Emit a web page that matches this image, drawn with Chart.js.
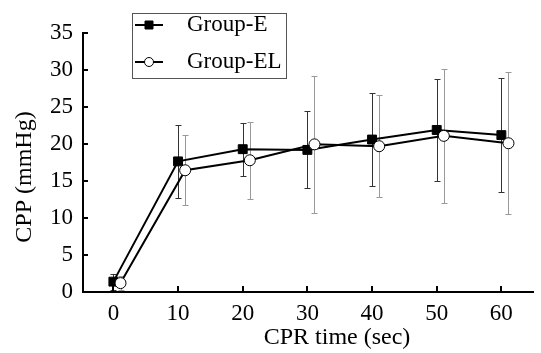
<!DOCTYPE html>
<html>
<head>
<meta charset="utf-8">
<script src="https://cdn.jsdelivr.net/npm/chart.js@4/dist/chart.umd.min.js"></script>
<style>
html,body{margin:0;padding:0;background:#fff;}
#wrap{width:541px;height:353px;}
</style>
</head>
<body>
<div id="wrap"><canvas id="c" width="541" height="353"></canvas></div>
<script>
const times = [0, 10, 20, 30, 40, 50, 60];
const groupE = [1.4, 17.65, 19.3, 19.2, 20.6, 21.9, 21.2];
const groupESD = [1.1, 4.9, 3.6, 5.2, 6.3, 6.9, 7.7];
const groupEL = [1.2, 16.45, 17.8, 19.95, 19.7, 21.1, 20.1];
const groupELSD = [0.9, 4.7, 5.2, 9.3, 6.9, 9.1, 9.6];
const xTicks = [0, 10, 20, 30, 40, 50, 60];
const yTicks = [0, 5, 10, 15, 20, 25, 30, 35];
const labels = ['Group-E', 'Group-EL'];
const xTitle = 'CPR time (sec)';
const yTitle = 'CPP (mmHg)';
const elShift = 1.1;

const FONT = "'Liberation Serif', 'Times New Roman', serif";

const errColors = ['#333', '#999'];

const errorBars = {
  id: 'errorBars',
  beforeDatasetsDraw(chart) {
    const ctx = chart.ctx, xs = chart.scales.x, ys = chart.scales.y;
    const sds = [groupESD, groupELSD];
    ctx.save();
    ctx.lineWidth = 1;
    chart.data.datasets.forEach((ds, i) => {
      ctx.strokeStyle = errColors[i];
      ds.data.forEach((p, j) => {
        const x = Math.round(xs.getPixelForValue(p.x)) + 0.5;
        const yt = Math.round(ys.getPixelForValue(p.y + sds[i][j])) + 0.5;
        const yb = Math.round(ys.getPixelForValue(Math.max(0, p.y - sds[i][j]))) + 0.5;
        ctx.beginPath();
        ctx.moveTo(x, yt); ctx.lineTo(x, yb);
        ctx.moveTo(x - 3, yt); ctx.lineTo(x + 3, yt);
        ctx.moveTo(x - 3, yb); ctx.lineTo(x + 3, yb);
        ctx.stroke();
      });
    });
    ctx.restore();
  }
};

const innerTicks = {
  id: 'innerTicks',
  afterDraw(chart) {
    const ctx = chart.ctx, xs = chart.scales.x, ys = chart.scales.y, a = chart.chartArea;
    ctx.save();
    ctx.strokeStyle = '#000';
    ctx.lineWidth = 2;
    ctx.beginPath();
    xTicks.forEach(v => {
      const x = Math.round(xs.getPixelForValue(v));
      ctx.moveTo(x, a.bottom); ctx.lineTo(x, a.bottom - 6);
    });
    yTicks.forEach(v => {
      const y = Math.round(ys.getPixelForValue(v));
      ctx.moveTo(a.left, y); ctx.lineTo(a.left + 5, y);
    });
    ctx.stroke();
    // axis titles
    ctx.fillStyle = '#000';
    ctx.font = '24px ' + FONT;
    ctx.textAlign = 'center';
    ctx.textBaseline = 'middle';
    ctx.fillText(xTitle, 337, 338);
    ctx.translate(25, 177);
    ctx.rotate(-Math.PI / 2);
    ctx.fillText(yTitle, 0, 0);
    ctx.restore();
  }
};

const boxLegend = {
  id: 'boxLegend',
  afterDraw(chart) {
    const ctx = chart.ctx;
    ctx.save();
    ctx.fillStyle = '#fff';
    ctx.fillRect(132, 13, 155, 66);
    ctx.strokeStyle = '#555';
    ctx.lineWidth = 1;
    ctx.strokeRect(132.5, 13.5, 154, 65);
    const rows = [25, 62];
    chart.data.datasets.forEach((ds, i) => {
      const y = rows[i];
      ctx.strokeStyle = '#000';
      ctx.lineWidth = 2;
      ctx.beginPath(); ctx.moveTo(135, y); ctx.lineTo(163, y); ctx.stroke();
      ctx.fillStyle = ds.pointBackgroundColor;
      ctx.strokeStyle = '#000';
      ctx.lineWidth = 1;
      ctx.beginPath();
      if (ds.pointStyle === 'rect') { ctx.rect(145, y - 4, 8, 8); }
      else { ctx.arc(149, y, 4.5, 0, Math.PI * 2); }
      ctx.fill(); ctx.stroke();
      ctx.fillStyle = '#000';
      ctx.font = '23px ' + FONT;
      ctx.textAlign = 'left';
      ctx.textBaseline = 'middle';
      ctx.fillText(ds.label, 187, y);
    });
    ctx.restore();
  }
};

new Chart(document.getElementById('c'), {
  type: 'line',
  data: {
    datasets: [
      {
        label: labels[0],
        data: times.map((t, i) => ({x: t, y: groupE[i]})),
        borderColor: '#000', borderWidth: 2,
        pointStyle: 'rect', pointRadius: 6.3, pointBackgroundColor: '#000',
        pointBorderColor: '#000', pointBorderWidth: 1,
        order: 2, tension: 0
      },
      {
        label: labels[1],
        data: times.map((t, i) => ({x: t + elShift, y: groupEL[i]})),
        borderColor: '#000', borderWidth: 2,
        pointStyle: 'circle', pointRadius: 5.5, pointBackgroundColor: '#fff',
        pointBorderColor: '#000', pointBorderWidth: 1,
        order: 1, tension: 0
      }
    ]
  },
  options: {
    responsive: false,
    animation: false,
    devicePixelRatio: 1,
    layout: {padding: {left: 0, right: 0, top: 33, bottom: 0}},
    plugins: {legend: {display: false}, tooltip: {enabled: false}},
    scales: {
      x: {
        type: 'linear', min: -4.7, max: 65,
        afterFit(s) { s.height = 61; },
        afterBuildTicks(s) { s.ticks = xTicks.map(v => ({value: v})); },
        grid: {display: false, drawTicks: false},
        border: {display: true, color: '#000', width: 2},
        ticks: {color: '#000', font: {family: FONT, size: 23}, padding: 8}
      },
      y: {
        type: 'linear', min: 0, max: 35,
        afterFit(s) { s.width = 83; },
        afterBuildTicks(s) { s.ticks = yTicks.map(v => ({value: v})); },
        grid: {display: false, drawTicks: false},
        border: {display: true, color: '#000', width: 2},
        ticks: {color: '#000', font: {family: FONT, size: 23}, padding: 10}
      }
    }
  },
  plugins: [errorBars, innerTicks, boxLegend]
});
</script>
</body>
</html>
